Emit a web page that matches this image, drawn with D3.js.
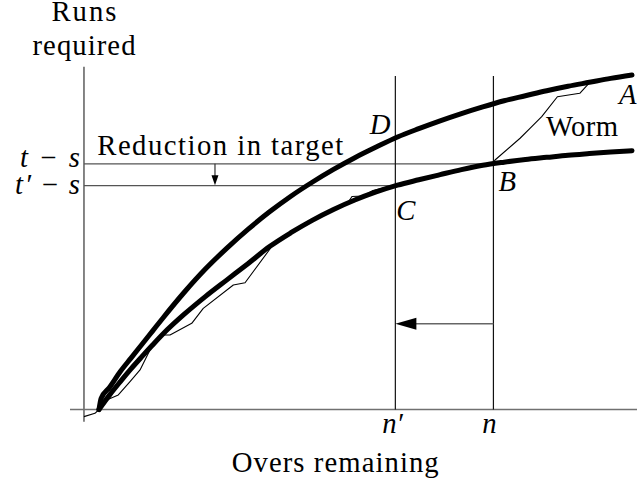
<!DOCTYPE html>
<html><head><meta charset="utf-8">
<script src="https://cdn.jsdelivr.net/npm/d3@7"></script>
<style>
html,body{margin:0;padding:0;background:#fff;overflow:hidden}
#wrap{position:relative;width:637px;height:481px}
#wrap svg{position:absolute;left:0;top:0}
</style></head>
<body><div id="wrap"><svg id="c" width="637" height="481"></svg><svg id="t" width="637" height="481"></svg></div>
<script>
// ---- data ----
const curveOvers = [0,0.2,1,2,3,4,5,6,8,10,12,14,16,18,20,22,24,26,28,30,32,34,36,38,40,42,44,46,48,50];
const upperRuns  = [0,10,20,34,46,58,70,82,105,126,144.5,161.5,177,191,203.5,215,225.5,235,244,251.5,258.5,265,271,276.5,281,285.5,289.5,293,296.5,299.5];
const lowerRuns  = [0,2.7,13.1,25,36.4,47.1,57.5,67.6,85.3,101.3,116.1,130.8,145.9,158.3,169.4,179.1,187.6,194.8,200.9,205.7,210.3,214.8,218.7,221.5,223.9,225.8,227.7,229.2,230.6,231.8];
const wormOvers  = [-1.41,-0.38,0,0.72,1.81,2.91,3.85,4.78,5.88,6.66,8.70,9.78,12.6,13.7,16.35,18,20,22,23.3,23.73,24.77,25.7,26.64,27.81,30,32,34,36,36.93,37.15,39.5,40.43,41.53,43.0,45.1,46.0];
const wormRuns   = [-6.4,-3.4,0,8.5,13,24.9,35.4,53.3,66.7,66.7,77.2,90.6,111.5,113.5,147.8,158.3,169.4,179.1,184.5,190.7,191.2,196.1,198.4,200.4,205.7,210.3,214.8,218.7,220.1,223.4,242.9,251.8,262.2,280.1,283.2,292.5];
const oversMarks  = [27.8, 37];          // n', n
const oversLabels = ["n′", "n"];
const targetMarks  = [220, 200.4];       // t-s, t'-s
const targetLabels = [["t","s"], ["t′","s"]];
const markerTopRuns = 298.6;
const arrowRuns = 76.8;
const smallArrowOvers = 10.88;
const axisOvers = [-2.72, 50.47];
const axisRuns = [-10.9, 307];
const yAxisAtOvers = -1.41;

// ---- scales ----
const FONT = '"Liberation Serif"';
const FS = 28.7;
const x = d3.scaleLinear().domain([0,50]).range([99,632]);
const y = d3.scaleLinear().domain([0,300]).range([409.5,74.5]);
const svg = d3.select("#c");
const tsvg = d3.select("#t");
svg.append("rect").attr("width",637).attr("height",481).attr("fill","#fff");

function label(txt, px, py, opts={}){
  const t = tsvg.append("text").attr("x",px).attr("y",py)
    .style("font-family",FONT).attr("font-size",FS);
  if(txt!==null) t.text(txt);
  if(opts.italic) t.style("font-style","italic");
  if(opts.anchor) t.attr("text-anchor",opts.anchor);
  if(opts.len) t.attr("textLength",opts.len).attr("lengthAdjust","spacing");
  return t;
}

// ---- axes (drawn from the scales) ----
const x0 = x(yAxisAtOvers);
svg.append("line").attr("x1",x(axisOvers[0])).attr("x2",x(axisOvers[1])).attr("y1",y(0)).attr("y2",y(0))
  .attr("stroke","#707070").attr("stroke-width",1.7);
svg.append("line").attr("x1",x0).attr("x2",x0).attr("y1",y(axisRuns[0])).attr("y2",y(axisRuns[1]))
  .attr("stroke","#707070").attr("stroke-width",1.7);

// ---- reference lines ----
const nP = oversMarks[0], n = oversMarks[1];
const ts = targetMarks[0], tps = targetMarks[1];
svg.append("line").attr("x1",x0).attr("x2",x(n)).attr("y1",y(ts)).attr("y2",y(ts))
  .attr("stroke","#555").attr("stroke-width",1.3);
svg.append("line").attr("x1",x0).attr("x2",x(nP)).attr("y1",y(tps)).attr("y2",y(tps))
  .attr("stroke","#555").attr("stroke-width",1.3);
oversMarks.forEach(v=>{
  svg.append("line").attr("x1",x(v)).attr("x2",x(v)).attr("y1",y(0)).attr("y2",y(markerTopRuns))
    .attr("stroke","#111").attr("stroke-width",1.2);
});

// big arrow n -> n'
svg.append("line").attr("x1",x(n)).attr("x2",x(nP)+18).attr("y1",y(arrowRuns)).attr("y2",y(arrowRuns))
  .attr("stroke","#666").attr("stroke-width",1.3);
{
  const tx=x(nP), ty=y(arrowRuns);
  svg.append("path").attr("d",`M${tx},${ty}L${tx+21},${ty-6}L${tx+21},${ty+6}Z`).attr("fill","#000");
}
// small arrow
{
  const sx=x(smallArrowOvers), y1=y(ts), y2=y(tps)-0.5;
  svg.append("line").attr("x1",sx).attr("x2",sx).attr("y1",y1).attr("y2",y2-8).attr("stroke","#333").attr("stroke-width",1.2);
  svg.append("path").attr("d",`M${sx},${y2}L${sx-3.5},${y2-10}L${sx+3.5},${y2-10}Z`).attr("fill","#000");
}

// ---- curves ----
const line = d3.line().x(d=>x(d[0])).y(d=>y(d[1])).curve(d3.curveLinear);
svg.append("path").datum(d3.zip(wormOvers,wormRuns)).attr("d",line)
  .attr("fill","none").attr("stroke","#000").attr("stroke-width",1.1).attr("stroke-linejoin","round");
const thick = d3.line().x(d=>x(d[0])).y(d=>y(d[1])).curve(d3.curveMonotoneX);
[upperRuns, lowerRuns].forEach(r=>{
  svg.append("path").datum(d3.zip(curveOvers,r)).attr("d",thick)
    .attr("fill","none").attr("stroke","#000").attr("stroke-width",5).attr("stroke-linecap","round");
});

// ---- text labels (separate text layer) ----
label("Runs", x0, 21, {anchor:"middle", len:65});
label("required", x0, 55, {anchor:"middle", len:103});
label("Overs remaining", 231.7, 471.7, {len:207});
label("Reduction in target", 97.3, 155, {len:246});
label("Worm", 546, 136, {len:72});
label("D", x(nP)-5, y(upperRuns[18])-3.5, {italic:true, anchor:"end"});
label("C", x(nP)+1, y(tps)+34, {italic:true});
label("B", x(n)+5, y(ts)+27, {italic:true});
label("A", 619, 103.5, {italic:true});
oversMarks.forEach((v,i)=>{
  label(oversLabels[i], x(v)+(i===0?-2.8:-4), y(0)+23.8, {italic:true, anchor:"middle"});
});
targetMarks.forEach((v,i)=>{
  const t = label(null, x0-4, y(v)+(i===0?3.0:8.3), {anchor:"end", len: i===0?60:65});
  t.append("tspan").style("font-style","italic").text(targetLabels[i][0]);
  t.append("tspan").text(" − ");
  t.append("tspan").style("font-style","italic").text(targetLabels[i][1]);
});
</script></body></html>
